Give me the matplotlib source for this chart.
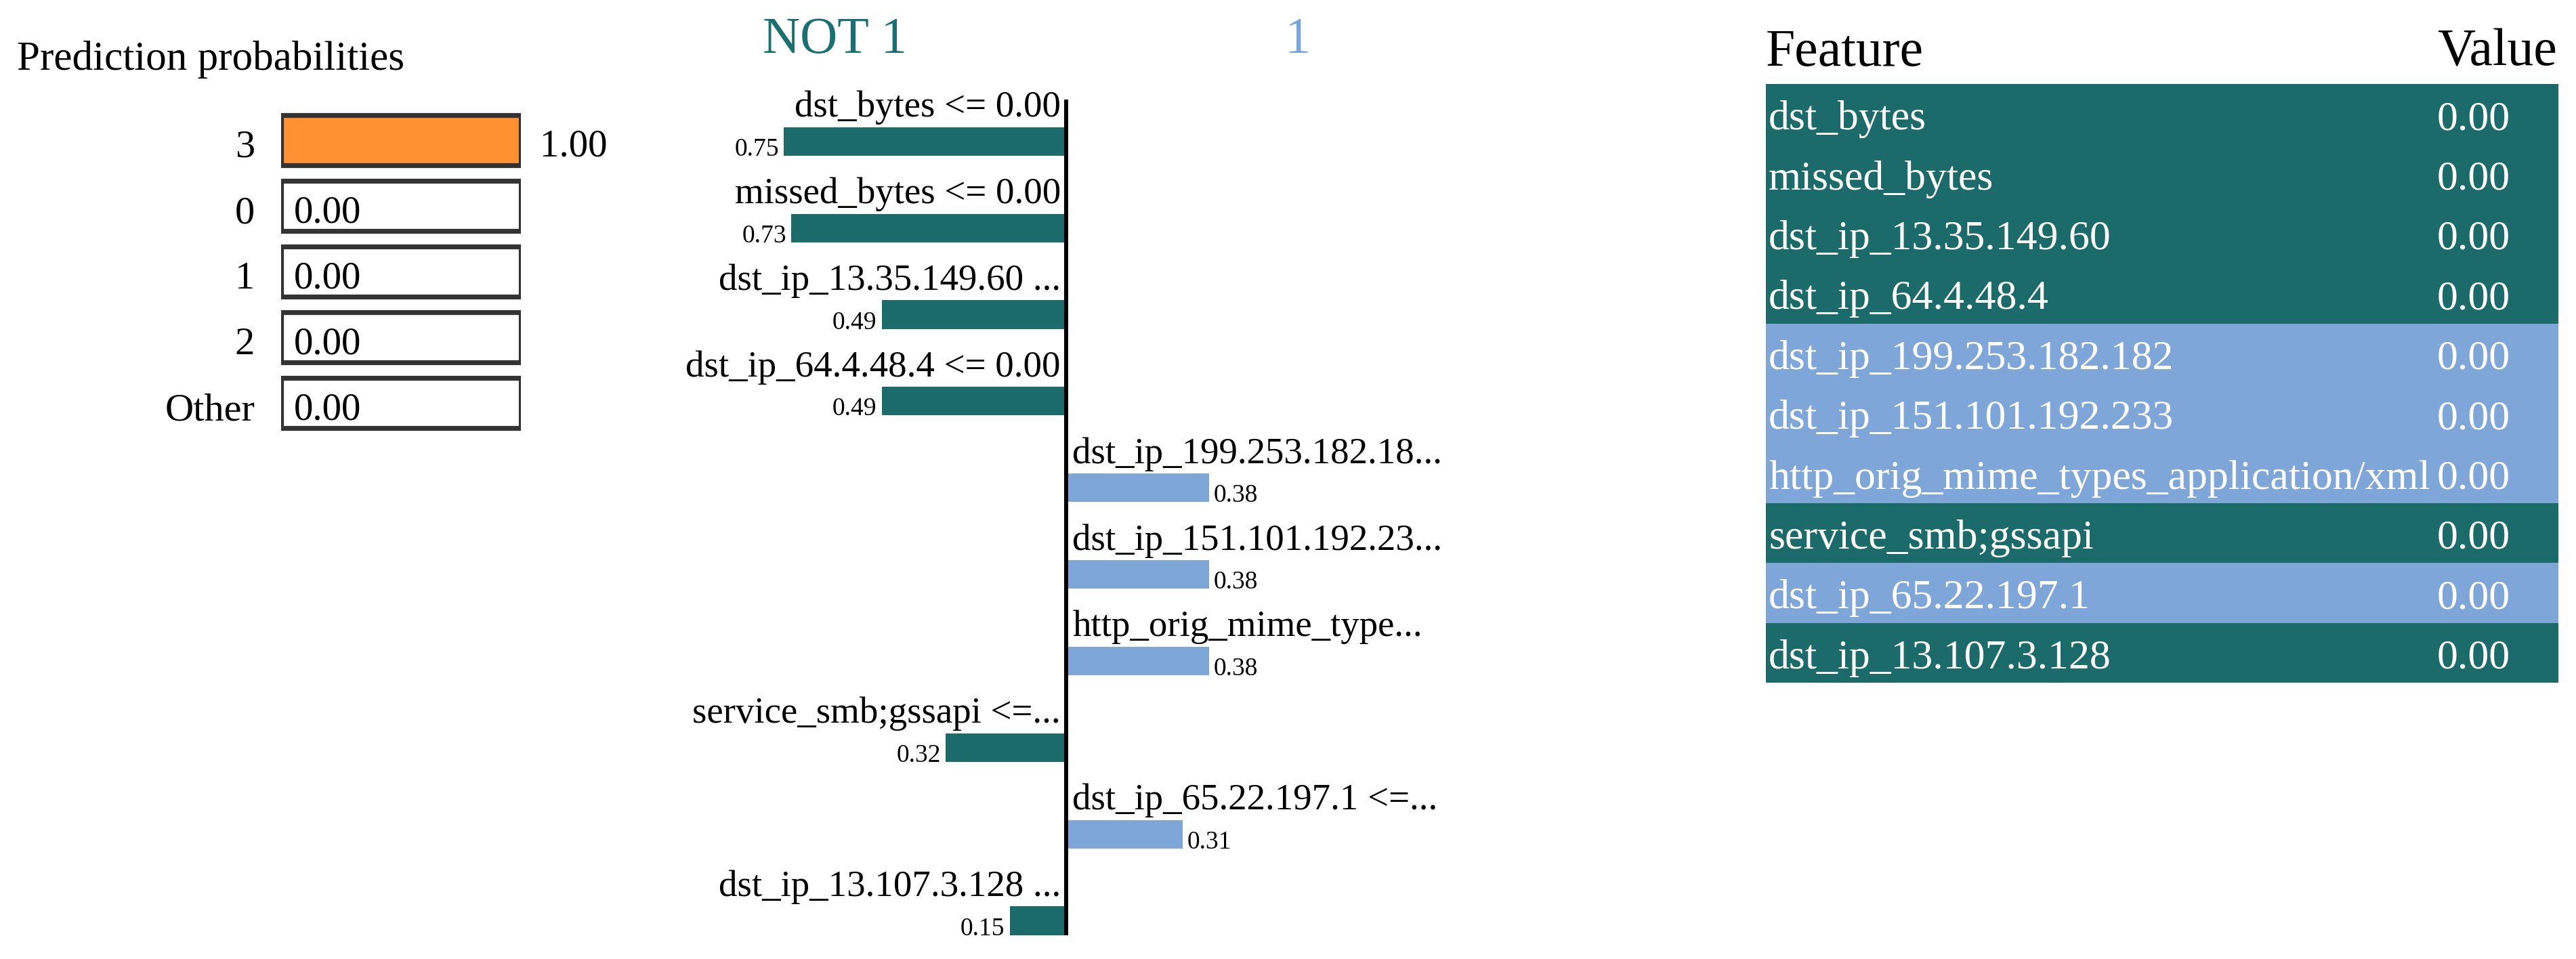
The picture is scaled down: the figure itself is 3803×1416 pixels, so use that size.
#LIME explanation - prediction probabilities, feature weights, feature values
import matplotlib
matplotlib.use("Agg")
import matplotlib.pyplot as plt
from matplotlib.transforms import offset_copy

plt.rcParams['font.family'] = ['Liberation Serif', 'DejaVu Serif']

# data
class_labels = ['3', '0', '1', '2', 'Other']
class_probs = [1.00, 0.00, 0.00, 0.00, 0.00]

explained_classes = ['NOT 1', '1']
feature_rules = ['dst_bytes <= 0.00', 'missed_bytes <= 0.00', 'dst_ip_13.35.149.60 ...',
                 'dst_ip_64.4.48.4 <= 0.00', 'dst_ip_199.253.182.18...', 'dst_ip_151.101.192.23...',
                 'http_orig_mime_type...', 'service_smb;gssapi <=...', 'dst_ip_65.22.197.1 <=...',
                 'dst_ip_13.107.3.128 ...']
feature_weights = [-0.75, -0.73, -0.49, -0.49, 0.38, 0.38, 0.38, -0.32, 0.31, -0.15]

feature_names = ['dst_bytes', 'missed_bytes', 'dst_ip_13.35.149.60', 'dst_ip_64.4.48.4',
                 'dst_ip_199.253.182.182', 'dst_ip_151.101.192.233',
                 'http_orig_mime_types_application/xml', 'service_smb;gssapi',
                 'dst_ip_65.22.197.1', 'dst_ip_13.107.3.128']
feature_values = [0.00, 0.00, 0.00, 0.00, 0.00, 0.00, 0.00, 0.00, 0.00, 0.00]

ORANGE = '#ff9133'
TEAL = '#1b6b6a'
BLUE = '#7ea6d9'

W, H = 3803, 1416
DPI = 100
fig = plt.figure(figsize=(W / DPI, H / DPI), dpi=DPI)


def px_axes(x0, y0, x1, y1):
    """Add an axes given a pixel box (top-left origin)."""
    ax = fig.add_axes([x0 / W, 1 - y1 / H, (x1 - x0) / W, (y1 - y0) / H])
    ax.set_axis_off()
    return ax


def shift(ax, dx, dy=0):
    return offset_copy(ax.transData, fig=fig, x=dx, y=dy, units='dots')


# ---- prediction probabilities ----
fig.text(25 / W, 1 - 103 / H, 'Prediction probabilities', fontsize=44, va='baseline', ha='left')

ax1 = px_axes(415, 158, 769, 644)
rows = list(range(len(class_labels)))
ax1.barh(rows, class_probs, height=0.76, color=ORANGE, linewidth=0)
ax1.barh(rows, [1] * len(rows), height=0.76, facecolor='none', edgecolor='#333333', linewidth=5.2)
ax1.set_xlim(0, 1)
ax1.set_ylim(4.5, -0.5)
for i, (lab, p) in enumerate(zip(class_labels, class_probs)):
    ax1.text(0, i + 0.26, lab, transform=shift(ax1, -39), ha='right', va='baseline', fontsize=42)
    ax1.text(p, i + 0.25, '%.2f' % p, transform=shift(ax1, 19 + 9 * p), ha='left', va='baseline', fontsize=41)

# ---- feature weights ----
ax2 = px_axes(1000, 80, 2300, 1400)
ax2.set_xlim(-574 / 556, 726 / 556)
ax2.set_ylim(9.317, -1.007)
rows = list(range(len(feature_weights)))
colors = [TEAL if w < 0 else BLUE for w in feature_weights]
ax2.barh(rows, feature_weights, height=0.33, color=colors, linewidth=0)
ax2.vlines(0, -0.483, 9.165, color='black', linewidth=4.3)
for i, (rule, w) in enumerate(zip(feature_rules, feature_weights)):
    if w < 0:
        ax2.text(0, i - 0.285, rule, transform=shift(ax2, -8), ha='right', va='baseline', fontsize=39.5)
        ax2.text(w, i + 0.165, '%.2f' % abs(w), transform=shift(ax2, -7), ha='right', va='baseline', fontsize=27)
    else:
        ax2.text(0, i - 0.285, rule, transform=shift(ax2, 9), ha='left', va='baseline', fontsize=39.5)
        ax2.text(w, i + 0.165, '%.2f' % abs(w), transform=shift(ax2, 6), ha='left', va='baseline', fontsize=27)

fig.text(1232 / W, 1 - 78 / H, explained_classes[0], color='#1a6f70', fontsize=55, ha='center', va='baseline')
fig.text(1915 / W, 1 - 78 / H, explained_classes[1], color='#7aa6de', fontsize=55, ha='center', va='baseline')

# ---- feature value table ----
ax3 = px_axes(2607, 124, 3777, 1008)
rows = list(range(len(feature_names)))
ax3.barh(rows, [1] * len(rows), height=1.0, color=colors, linewidth=0)
ax3.set_xlim(0, 1)
ax3.set_ylim(9.5, -0.5)
for i, (name, v) in enumerate(zip(feature_names, feature_values)):
    ax3.text(0, i + 0.26, name, transform=shift(ax3, 4), color='white', ha='left', va='baseline', fontsize=44.5)
    ax3.text(0.847, i + 0.26, '%.2f' % v, color='white', ha='left', va='baseline', fontsize=44.5)

fig.text(2607 / W, 1 - 97 / H, 'Feature', fontsize=56, ha='left', va='baseline')
fig.text(3775 / W, 1 - 97 / H, 'Value', fontsize=56, ha='right', va='baseline')

fig.savefig('out.png', dpi=DPI)
plt.close(fig)
